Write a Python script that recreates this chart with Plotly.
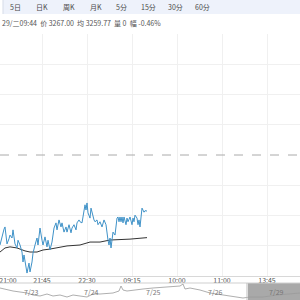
import plotly.graph_objects as go

# ---------------- data ----------------
tabs = ["5日", "日K", "周K", "月K", "5分", "15分", "30分", "60分"]
tab_pos = [15, 42, 69, 96, 121, 148, 175, 202]
info_text = "29/二09:44  价 3267.00  均 3259.77  量 0  幅 -0.46%"

prev_close = 3282.1
grid_step = 8.2

grid_idx = [45, 90, 135, 180, 225, 270, 315]
label_idx = [11, 45, 90, 135, 180, 225, 270, 315]
time_labels = ["21:00", "21:45", "22:30", "09:15", "10:00", "11:00", "13:45", "14:30"]

price_idx = [3, 5, 7, 8, 10, 12, 13, 15, 16, 18, 20, 21, 23, 25, 26, 27, 29, 30, 32, 33,
             35, 36, 38, 40, 41, 43, 45, 46, 48, 50, 51, 53, 55, 56, 57, 59, 60, 62, 64, 65,
             67, 69, 70, 72, 74, 75, 77, 79, 80, 82, 83, 85, 86, 88, 89, 90, 91, 93, 94, 95,
             97, 98, 100, 101, 103, 105, 106, 107, 109, 110, 111, 112, 113, 114, 115, 116,
             118, 120, 121, 122, 123, 124, 125, 126, 127, 129, 130, 131, 133, 135, 136, 137,
             138, 140, 141, 142, 143, 144, 145, 147, 148, 150]
price_vals = [3257.7, 3260.2, 3262.0, 3262.6, 3258.0, 3259.4, 3260.4, 3259.6, 3261.8, 3258.0,
              3256.9, 3259.0, 3257.7, 3255.8, 3253.1, 3255.0, 3251.7, 3250.1, 3252.8, 3250.4,
              3253.1, 3255.5, 3257.7, 3259.6, 3257.7, 3262.3, 3259.0, 3257.7, 3259.9, 3257.2,
              3259.0, 3256.4, 3258.5, 3259.9, 3262.3, 3263.7, 3261.8, 3264.5, 3262.6, 3263.7,
              3261.2, 3262.6, 3261.2, 3263.2, 3261.0, 3262.3, 3263.2, 3261.8, 3263.7, 3264.5,
              3264.0, 3263.7, 3265.8, 3268.6, 3267.2, 3269.1, 3266.4, 3265.0, 3267.7, 3266.4,
              3264.5, 3264.0, 3264.5, 3263.2, 3264.0, 3262.6, 3264.0, 3264.5, 3263.2, 3260.4,
              3259.0, 3257.7, 3259.6, 3256.9, 3258.5, 3261.2, 3260.4, 3265.0, 3265.3, 3264.0,
              3265.3, 3264.0, 3265.3, 3263.7, 3265.3, 3263.2, 3265.0, 3264.0, 3265.3, 3263.2,
              3265.0, 3264.0, 3265.8, 3265.0, 3263.2, 3264.5, 3262.6, 3265.8, 3267.7, 3266.6,
              3267.0, 3266.9]

avg_idx = [3, 8, 13, 20, 28, 33, 40, 46, 53, 60, 70, 83, 93, 103, 113, 133, 150]
avg_vals = [3255.8, 3256.9, 3257.2, 3256.9, 3256.1, 3255.8, 3255.8, 3256.35, 3256.6, 3256.9,
            3257.45, 3257.7, 3258.5, 3258.5, 3259.05, 3259.3, 3259.7]

nav_idx = [0, 7, 13, 20, 27, 33, 40, 47, 53, 60, 67, 73, 80, 87, 93, 100, 113, 119, 121, 123,
           127, 133, 143, 153, 167, 180, 183, 185, 190, 200, 210, 223, 233, 243, 250, 263, 277,
           290, 300]
nav_vals = [3350, 3330, 3320, 3310, 3300, 3280, 3270, 3290, 3270, 3280, 3260, 3280, 3270, 3260,
            3290, 3290, 3300, 3320, 3370, 3330, 3320, 3330, 3340, 3350, 3360, 3370, 3390, 3340,
            3350, 3330, 3300, 3280, 3260, 3250, 3260, 3260, 3280, 3290, 3300]
nav_dates = ["7/23", "7/24", "7/25", "7/26", "7/29"]
nav_date_idx = [31, 91, 153, 215, 276]

# ---------------- figure ----------------
W = H = 300
def py(p):  # pixel-from-top -> paper y
    return 1 - p / H

fig = go.Figure()

fig.add_trace(go.Scatter(x=avg_idx, y=avg_vals, mode="lines",
                         line=dict(color="#333333", width=1), hoverinfo="skip",
                         xaxis="x", yaxis="y"))
fig.add_trace(go.Scatter(x=price_idx, y=price_vals, mode="lines",
                         line=dict(color="#3f92c8", width=1), hoverinfo="skip",
                         xaxis="x", yaxis="y"))
fig.add_trace(go.Scatter(x=nav_idx, y=nav_vals, mode="lines",
                         line=dict(color="#9a9a9a", width=0.8), hoverinfo="skip",
                         xaxis="x2", yaxis="y2"))
# carrier trace for the label axis
fig.add_trace(go.Scatter(x=[], y=[], xaxis="x3", yaxis="y", hoverinfo="skip"))

ytick = [prev_close + k * grid_step for k in (-3, -2, -1, 1, 2, 3)]

fig.update_layout(
    width=W, height=H, margin=dict(l=0, r=0, t=0, b=0),
    paper_bgcolor="white", plot_bgcolor="white", showlegend=False,
    font=dict(family="Noto Sans CJK SC, Noto Sans, sans-serif", size=7, color="#444"),
    xaxis=dict(domain=[0, 1], range=[3, 303], tickvals=grid_idx, showticklabels=False,
               showgrid=True, gridcolor="#f0f0f0", gridwidth=1, zeroline=False,
               showline=True, linecolor="#d8d8d8", ticks="", anchor="y"),
    xaxis3=dict(domain=[0, 1], range=[3, 303], tickvals=label_idx, ticktext=time_labels,
                overlaying="x", side="bottom", anchor="y", showgrid=False, zeroline=False,
                showline=False, ticks="", tickfont=dict(size=7, color="#555"),
                ticklabelstandoff=-1, ticklabeloverflow="allow"),
    yaxis=dict(domain=[py(276), py(34)], range=[prev_close - 4 * grid_step, prev_close + 4 * grid_step],
               tickvals=ytick, showticklabels=False, showgrid=True, gridcolor="#f0f0f0",
               zeroline=False, anchor="x"),
    xaxis2=dict(domain=[0, 1], range=[0, 300], showticklabels=False, showgrid=False,
                zeroline=False, anchor="y2"),
    yaxis2=dict(domain=[0, py(283)], range=[3230, 3400], showticklabels=False,
                showgrid=False, zeroline=False, anchor="x2"),
)

shapes = []
shapes.append(dict(type="rect", xref="paper", yref="paper", x0=0, x1=1, y0=py(14), y1=1,
                   fillcolor="#eef2fb", line=dict(width=0), layer="below"))
shapes.append(dict(type="rect", xref="paper", yref="paper", x0=0, x1=3 / W, y0=py(14), y1=1,
                   fillcolor="#ffffff", line=dict(width=0), layer="below"))
shapes.append(dict(type="line", xref="paper", yref="paper", x0=3 / W, x1=3 / W, y0=py(14), y1=1,
                   line=dict(color="#d5dbe8", width=1)))
shapes.append(dict(type="line", xref="paper", yref="y", x0=0, x1=1, y0=prev_close, y1=prev_close,
                   line=dict(color="#aaaaaa", width=1, dash="dash")))
shapes.append(dict(type="rect", xref="paper", yref="paper", x0=248 / W, x1=1, y0=0, y1=py(283),
                   fillcolor="#a9a9a9", line=dict(width=0), layer="below"))
shapes.append(dict(type="line", xref="paper", yref="paper", x0=0, x1=1, y0=py(283), y1=py(283),
                   line=dict(color="#cfcfcf", width=1)))
shapes.append(dict(type="line", xref="paper", yref="paper", x0=247 / W, x1=247 / W, y0=0, y1=py(283),
                   line=dict(color="#bdbdbd", width=1)))
fig.update_layout(shapes=shapes)

ann = []
for t, xp in zip(tabs, tab_pos):
    ann.append(dict(text=t, x=xp / W, y=py(7), xref="paper", yref="paper", showarrow=False,
                    xanchor="center", yanchor="middle", font=dict(size=7, color="#4a4a4a")))
ann.append(dict(text=info_text, x=0, y=py(23), xref="paper", yref="paper", showarrow=False,
                xanchor="left", yanchor="middle", font=dict(size=7, color="#555")))
for d, xi in zip(nav_dates, nav_date_idx):
    ann.append(dict(text=d, x=xi, y=py(292), xref="x2", yref="paper", showarrow=False,
                    xanchor="center", yanchor="middle", font=dict(size=7, color="#777")))
fig.update_layout(annotations=ann)

fig.write_html("out.html")
